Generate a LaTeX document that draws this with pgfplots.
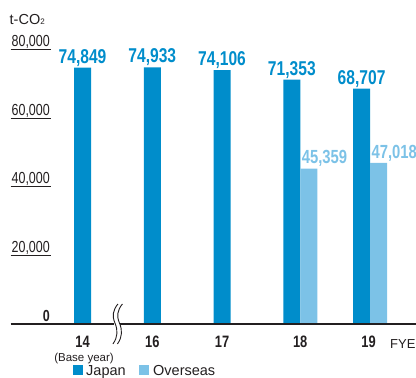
\documentclass[border=0pt]{standalone}
\usepackage{pgfplots}
\pgfplotsset{compat=1.18}
\usepackage{fontspec}
\setmainfont{Liberation Sans}
\newfontfamily\condfont{Liberation Sans}[FakeStretch=0.78]
\definecolor{jp}{RGB}{0,141,203}
\definecolor{ov}{RGB}{124,194,231}
\definecolor{txt}{RGB}{35,31,32}
\begin{document}
\begin{tikzpicture}
\useasboundingbox (0bp,0bp) rectangle (416bp,378bp);
\begin{axis}[
 at={(10.7bp,54bp)}, anchor=south west, scale only axis,
 width=405.3bp, height=274bp,
 xmin=-1.03, xmax=4.78, ymin=0, ymax=80000,
 axis line style={draw=none}, tick style={draw=none}, ytick=\empty,
 xtick={0,1,2,3.12,4.1}, xticklabels={14,16,17,18,19},
 xticklabel style={anchor=base, yshift=-23.3bp, inner sep=0pt,
   font=\condfont\fontsize{16.5bp}{18bp}\selectfont\bfseries, text=txt},
 clip=false,
 /pgf/number format/.cd, 1000 sep={,}, fixed, precision=0, assume math mode=true,
]
\addplot[ybar, bar width=17bp, bar shift=0bp, fill=jp, draw=none,
  nodes near coords,
  nodes near coords style={anchor=base, inner sep=0pt, yshift=4.5bp, text=jp,
    font=\condfont\fontsize{20bp}{22bp}\selectfont\bfseries}]
  coordinates {(0,74849) (1,74933) (2,74106) (3,71353) (4,68707)};
\addplot[ybar, bar width=17bp, bar shift=17bp, fill=ov, draw=none,
  nodes near coords,
  nodes near coords style={anchor=base west, inner sep=0pt, xshift=9.8bp, yshift=4.7bp, text=ov,
    font=\condfont\fontsize{19bp}{21bp}\selectfont\bfseries}]
  coordinates {(3,45359) (4,47018)};
\draw[txt, line width=1.3bp] (axis cs:-1.03,0) -- (axis cs:4.78,0);
\pgfplotsinvokeforeach{20000,40000,60000,80000}{
  \draw[txt, line width=1bp] (axis cs:-1.03,#1) -- ++(40bp,0bp);
}
\node[anchor=base east, inner sep=0pt, text=txt, font=\condfont\fontsize{16bp}{18bp}\selectfont] at ([xshift=39.3bp,yshift=3.5bp]axis cs:-1.03,80000) {80,000};
\node[anchor=base east, inner sep=0pt, text=txt, font=\condfont\fontsize{16bp}{18bp}\selectfont] at ([xshift=39.3bp,yshift=3.5bp]axis cs:-1.03,60000) {60,000};
\node[anchor=base east, inner sep=0pt, text=txt, font=\condfont\fontsize{16bp}{18bp}\selectfont] at ([xshift=39.3bp,yshift=3.5bp]axis cs:-1.03,40000) {40,000};
\node[anchor=base east, inner sep=0pt, text=txt, font=\condfont\fontsize{16bp}{18bp}\selectfont] at ([xshift=39.3bp,yshift=3.5bp]axis cs:-1.03,20000) {20,000};
\node[anchor=base east, inner sep=0pt, text=txt, font=\condfont\fontsize{16bp}{18bp}\selectfont\bfseries] at ([xshift=39.3bp,yshift=3bp]axis cs:-1.03,0) {0};
\coordinate (brk) at (axis cs:0.5,0);
\end{axis}
\begin{scope}[shift={(brk)}]
  \fill[white] (-3bp,-2bp) rectangle (3bp,2bp);
  \draw[txt, line width=0.9bp] (0.5bp,20bp) .. controls (-4.5bp,14bp) and (-5.5bp,8bp) .. (-2.5bp,1bp) .. controls (0.5bp,-6bp) and (0.5bp,-13bp) .. (-4.5bp,-20bp);
  \draw[txt, line width=0.9bp] (5bp,20bp) .. controls (0bp,14bp) and (-1bp,8bp) .. (2bp,1bp) .. controls (5bp,-6bp) and (5bp,-13bp) .. (0bp,-20bp);
\end{scope}
\node[anchor=base west, inner sep=0pt, text=txt, font=\fontsize{14.5bp}{17bp}\selectfont] at (9.5bp,353bp) {t-CO{\fontsize{8bp}{8bp}\selectfont 2}};
\node[anchor=base west, inner sep=0pt, text=txt, font=\fontsize{13bp}{15bp}\selectfont] at (390bp,30bp) {FYE};
\node[anchor=base, inner sep=0pt, text=txt, font=\fontsize{11.5bp}{13bp}\selectfont] at (84bp,16.3bp) {(Base year)};
\fill[jp] (72.7bp,2.5bp) rectangle (82.7bp,12.5bp);
\node[anchor=base west, inner sep=0pt, text=txt, font=\fontsize{14.5bp}{16bp}\selectfont] at (86bp,3bp) {Japan};
\fill[ov] (139bp,2.5bp) rectangle (149bp,12.5bp);
\node[anchor=base west, inner sep=0pt, text=txt, font=\fontsize{14.5bp}{16bp}\selectfont] at (153bp,3bp) {Overseas};
\end{tikzpicture}
\end{document}
